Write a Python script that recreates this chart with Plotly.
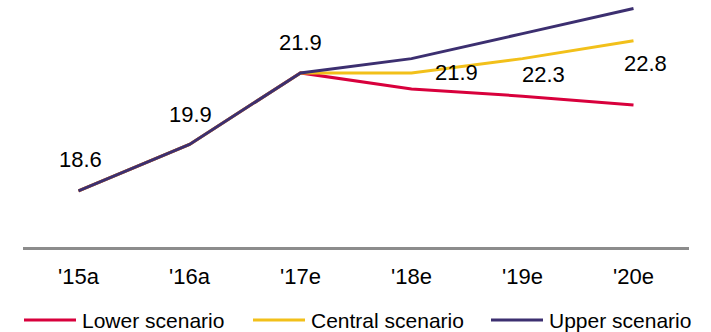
import plotly.graph_objects as go

# Market volume by year, three forecast scenarios
years = ["'15a", "'16a", "'17e", "'18e", "'19e", "'20e"]
lower = [18.6, 19.9, 21.9, 21.45, 21.25, 21.0]
central = [18.6, 19.9, 21.9, 21.9, 22.3, 22.8]
upper = [18.6, 19.9, 21.9, 22.3, 23.0, 23.7]

series_names = ["Lower scenario", "Central scenario", "Upper scenario"]
series_values = [lower, central, upper]
series_colors = ["#D8003C", "#F2C01A", "#3C2F70"]

FONT = "Arial, Liberation Sans, sans-serif"

fig = go.Figure()
for name, vals, col in zip(series_names, series_values, series_colors):
    fig.add_trace(go.Scatter(
        x=years, y=vals, mode="lines", name=name,
        line=dict(color=col, width=3), showlegend=False,
    ))

# Value labels: shared history above the line, central forecast beside it
label_offsets = [(2, 31), (1, 30), (0, 30), (45, 0), (21, -16), (12, -23)]
for i, (dx, dy) in enumerate(label_offsets):
    fig.add_annotation(
        x=years[i], y=central[i], text=f"{central[i]:.1f}",
        showarrow=False, xshift=dx, yshift=dy,
        font=dict(family=FONT, size=22, color="#000000"),
    )

# Legend row drawn below the axis
plot_left, plot_w, plot_h = 23, 666, 247
legend_y_px = 320
legend_line_x = [(24, 76), (253, 305), (491, 543)]
ly = (plot_h - legend_y_px) / plot_h
for (x0, x1), name, col in zip(legend_line_x, series_names, series_colors):
    fig.add_shape(
        type="line", xref="paper", yref="paper",
        x0=(x0 - plot_left) / plot_w, x1=(x1 - plot_left) / plot_w,
        y0=ly, y1=ly, line=dict(color=col, width=3),
    )
    fig.add_annotation(
        xref="paper", yref="paper", x=(x1 + 4 - plot_left) / plot_w, y=ly,
        xanchor="left", yanchor="middle", text=name, showarrow=False,
        font=dict(family=FONT, size=21, color="#000000"),
    )

fig.update_layout(
    width=711, height=332,
    margin=dict(l=23, r=22, t=0, b=85),
    paper_bgcolor="white", plot_bgcolor="white",
    xaxis=dict(
        type="category", range=[-0.5, 5.5],
        showline=True, linecolor="#8C8C8C", linewidth=3,
        showgrid=False, zeroline=False, ticks="",
        tickfont=dict(family=FONT, size=22, color="#000000"),
        ticklabelstandoff=8,
    ),
    yaxis=dict(
        range=[17.03, 23.94], visible=False,
        showgrid=False, zeroline=False,
    ),
)

fig.write_html("out.html")
